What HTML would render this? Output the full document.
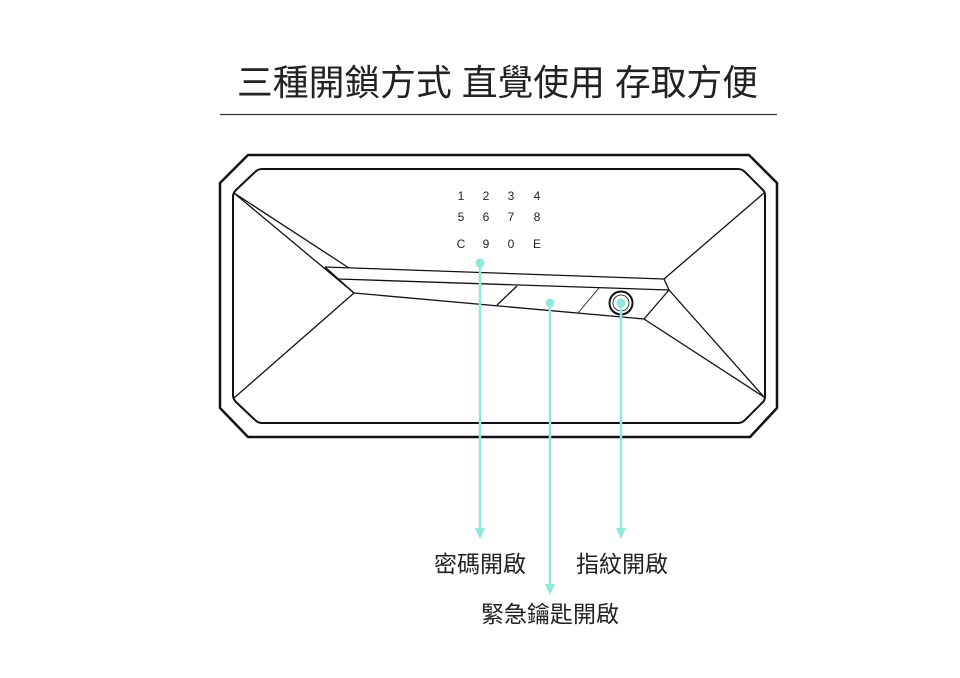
<!DOCTYPE html>
<html><head><meta charset="utf-8"><style>
html,body{margin:0;padding:0;background:#fff;}
svg{display:block;}
</style></head><body>
<svg width="960" height="678" viewBox="0 0 960 678" xmlns="http://www.w3.org/2000/svg">
<text x="237" y="95" font-family="Liberation Sans, Noto Sans CJK TC, sans-serif" font-size="36" fill="#222" textLength="521" lengthAdjust="spacingAndGlyphs">三種開鎖方式 直覺使用 存取方便</text>
<line x1="220" y1="114.5" x2="777" y2="114.5" stroke="#333" stroke-width="1.2"/>
<g fill="none" stroke="#111" stroke-linejoin="round">
<polygon points="248,155 749,155 777,183 777,408 750,437 248,437 220,408 220,183" stroke-width="2.5"/>
<path d="M262,169 L738,169 Q742,169 745,172 L763,190 Q765,192 765,196 L765,396 Q765,400 763,402 L745,420 Q742,423 738,423 L262,423 Q258,423 255,420 L236,402 Q233,399 233,395 L233,197 Q233,193 236,190 L255,172 Q258,169 262,169 Z" stroke-width="2"/>
<g stroke-width="1.3">
<line x1="234" y1="193" x2="349" y2="268"/>
<line x1="234" y1="193" x2="354" y2="293"/>
<line x1="234" y1="398" x2="354" y2="293"/>
<line x1="325" y1="267" x2="664" y2="279"/>
<line x1="325" y1="267" x2="354" y2="293"/>
<line x1="338" y1="279" x2="669" y2="290"/>
<line x1="354" y1="293" x2="644" y2="319"/>
<line x1="664" y1="279" x2="764" y2="193"/>
<line x1="664" y1="279" x2="669" y2="290"/>
<line x1="669" y1="290" x2="644" y2="319"/>
<line x1="644" y1="319" x2="764" y2="397"/>
<line x1="669" y1="290" x2="764" y2="397"/>
<line x1="517" y1="286" x2="497" y2="305"/>
<line x1="599" y1="288" x2="578" y2="313" stroke-width="0.8"/>
</g>
<circle cx="621" cy="303" r="11.5" stroke-width="2"/>
<circle cx="621" cy="303" r="8" stroke-width="0.8"/>
</g>
<g font-family="Liberation Sans, sans-serif" font-size="12" fill="#222" text-anchor="middle">
<text x="461" y="200">1</text><text x="486" y="200">2</text><text x="511" y="200">3</text><text x="537" y="200">4</text>
<text x="461" y="221">5</text><text x="486" y="221">6</text><text x="511" y="221">7</text><text x="537" y="221">8</text>
<text x="461" y="248">C</text><text x="486" y="248">9</text><text x="511" y="248">0</text><text x="537" y="248">E</text>
</g>
<g stroke="#8ee8dc" stroke-width="2.5" fill="#8ee8dc">
<line x1="480" y1="263" x2="480" y2="530"/>
<line x1="550" y1="303" x2="550" y2="586"/>
<line x1="621" y1="303" x2="621" y2="530"/>
<circle cx="480" cy="263" r="4.5" stroke="none"/>
<circle cx="550" cy="303" r="4.5" stroke="none"/>
<circle cx="621" cy="303" r="4.5" stroke="none"/>
<polygon points="475,528 485,528 480,539" stroke="none"/>
<polygon points="545,584 555,584 550,595" stroke="none"/>
<polygon points="616,528 626,528 621,539" stroke="none"/>
</g>
<g font-family="Liberation Sans, Noto Sans CJK TC, sans-serif" font-size="23" fill="#222" text-anchor="middle">
<text x="480" y="572">密碼開啟</text>
<text x="622" y="572">指紋開啟</text>
<text x="550" y="622">緊急鑰匙開啟</text>
</g>
</svg>
</body></html>
